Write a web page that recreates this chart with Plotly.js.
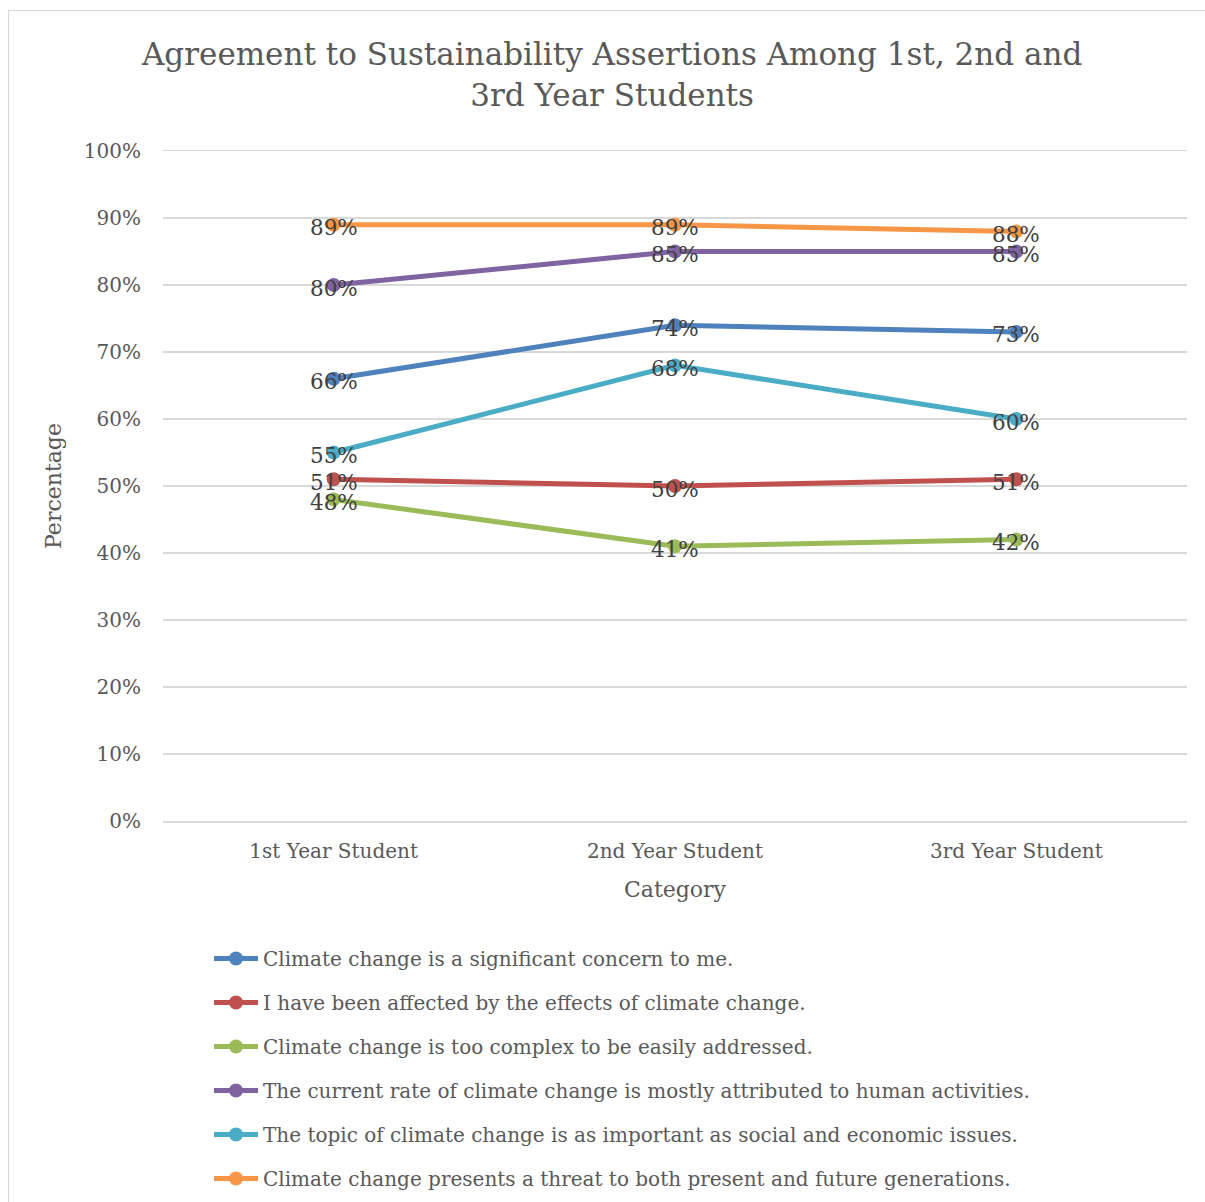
<!DOCTYPE html>
<html><head><meta charset="utf-8">
<script src="https://cdn.plot.ly/plotly-3.0.1.min.js"></script>
<style>body{margin:0;background:#fff}#wrap{position:relative;width:1205px;height:1202px}
#frame{position:absolute;left:8px;top:10px;width:1210px;height:1210px;border:1px solid #d9d9d9;pointer-events:none;z-index:5}
#chart{position:absolute;left:0;top:0;width:1205px;height:1202px}</style>
</head><body><div id="wrap"><div id="frame"></div><div id="chart"></div></div>
<script>
const categories = ['1st Year Student', '2nd Year Student', '3rd Year Student'];
const seriesNames = [
  'Climate change is a significant concern to me.',
  'I have been affected by the effects of climate change.',
  'Climate change is too complex to be easily addressed.',
  'The current rate of climate change is mostly attributed to human activities.',
  'The topic of climate change is as important as social and economic issues.',
  'Climate change presents a threat to both present and future generations.'
];
const concern = [0.66, 0.74, 0.73];
const affected = [0.51, 0.50, 0.51];
const complex = [0.48, 0.41, 0.42];
const human = [0.80, 0.85, 0.85];
const important = [0.55, 0.68, 0.60];
const threat = [0.89, 0.89, 0.88];
const colors = ['#4F81BD', '#C0504D', '#9BBB59', '#8064A2', '#4BACC6', '#F79646'];
const seriesValues = [concern, affected, complex, human, important, threat];

const FONT = 'DejaVu Serif';
const traces = seriesValues.map((vals, i) => ({
  type: 'scatter', mode: 'lines+markers',
  x: categories, y: vals, name: seriesNames[i], legendgroup: 'g' + i,
  line: {color: colors[i], width: 5},
  marker: {color: colors[i], size: 14},
  cliponaxis: false, hoverinfo: 'skip'
}));

const annotations = [];
seriesValues.forEach(vals => vals.forEach((v, j) => annotations.push({
  x: categories[j], y: v, xref: 'x', yref: 'y', showarrow: false,
  text: Math.round(v * 100) + '%', yshift: -3,
  font: {family: FONT, size: 21.5, color: '#404040'}
})));

const layout = {
  width: 1205, height: 1202,
  paper_bgcolor: 'rgba(0,0,0,0)', plot_bgcolor: '#fff',
  margin: {l: 163, r: 18, t: 151, b: 381, autoexpand: false},
  font: {family: FONT, color: '#595959'},
  title: {text: 'Agreement to Sustainability Assertions Among 1st, 2nd and<br>3rd Year Students',
    font: {family: FONT, size: 31, color: '#595959'}, x: 0.508, xanchor: 'center', y: 0.9457, yanchor: 'top'},
  xaxis: {type: 'category', range: [-0.5, 2.5], showgrid: false, zeroline: false,
    showline: true, mirror: true, linecolor: '#d9d9d9', linewidth: 1.5,
    ticks: '', ticklabelstandoff: 11, tickfont: {family: FONT, size: 20, color: '#595959'},
    title: {text: 'Category', font: {family: FONT, size: 22, color: '#595959'}, standoff: 20}},
  yaxis: {range: [0, 1], dtick: 0.1, tickformat: '.0%', showgrid: true, gridcolor: '#d9d9d9', gridwidth: 1.5,
    zeroline: true, zerolinecolor: '#d9d9d9', zerolinewidth: 1.5, showline: false, ticks: '',
    ticklabelstandoff: 21,
    tickfont: {family: FONT, size: 20, color: '#595959'},
    title: {text: 'Percentage', font: {family: FONT, size: 22, color: '#595959'}, standoff: 16}},
  annotations: annotations,
  showlegend: true,
  legend: {x: (209 - 163) / 1024, xanchor: 'left', y: -0.1762, yanchor: 'top', orientation: 'v',
    font: {family: FONT, size: 20, color: '#595959'}, tracegroupgap: 15, itemwidth: 44,
    bgcolor: 'rgba(0,0,0,0)'}
};
Plotly.newPlot('chart', traces, layout, {displayModeBar: false, staticPlot: true});
</script></body></html>
